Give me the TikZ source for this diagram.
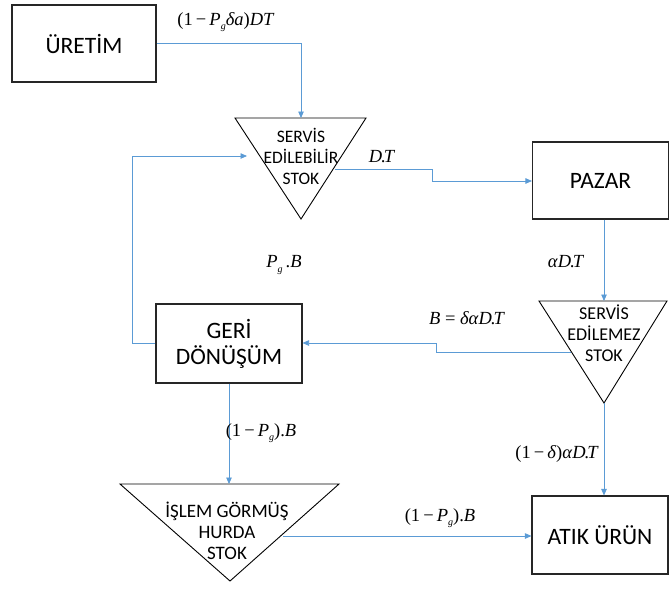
\documentclass[tikz,border=0pt]{standalone}
\usepackage{fontspec}
\setmainfont{Carlito}
\newfontfamily\tnr{Liberation Serif}
\usetikzlibrary{arrows.meta}
\definecolor{flowblue}{RGB}{91,155,213}
\newcommand{\iv}[1]{\textit{#1}}
\newcommand{\sg}{\raisebox{-0.5ex}{\fontsize{10}{10}\selectfont\itshape g}}
\newcommand{\dt}{\iv{D\kern-0.05em.\kern-0.12emT}}
\begin{document}
\begin{tikzpicture}[x=1pt,y=-1pt,
  boxnode/.style={draw=black!85, line width=1.1pt, minimum width=#1, inner sep=0pt, font=\fontsize{23.5}{26}\selectfont, align=center},
  tri/.style={draw=black, line width=0.9pt, line join=miter},
  tritext/.style={font=\fontsize{#1}{21}\selectfont, align=center, inner sep=0pt},
  flow/.style={draw=flowblue, line width=0.8pt, -{Triangle[length=6.5pt,width=5.5pt]}},
  lbl/.style={font=\tnr\fontsize{18.5}{20}\selectfont, inner sep=0pt}]
\useasboundingbox (0,0) rectangle (669,590);

% boxes
\node[boxnode=144pt, minimum height=77pt] (uretim) at (84,43.5) {ÜRETİM};
\node[boxnode=136pt, minimum height=77pt] (pazar) at (600.5,180.5) {PAZAR};
\node[boxnode=146pt, minimum height=79pt] (geri) at (229,343.5) {GERİ\\DÖNÜŞÜM};
\node[boxnode=136pt, minimum height=78pt] (atik) at (600,535) {ATIK ÜRÜN};

% triangles
\coordinate (t1a) at (235,118); \coordinate (t1b) at (366,118); \coordinate (t1c) at (301,219);
\draw[tri] (t1a) -- (t1b) -- (t1c) -- cycle;
\node[tritext=17.5] (t1text) at (301,156) {SERVİS\\EDİLEBİLİR\\STOK};

\coordinate (t2a) at (539,301); \coordinate (t2b) at (667,301); \coordinate (t2c) at (604,403);
\draw[tri] (t2a) -- (t2b) -- (t2c) -- cycle;
\node[tritext=18] (t2text) at (604,333) {SERVİS\\EDİLEMEZ\\STOK};

\coordinate (t3a) at (120,484); \coordinate (t3b) at (339,484); \coordinate (t3c) at (230,581);
\draw[tri] (t3a) -- (t3b) -- (t3c) -- cycle;
\node[tritext=19] (t3text) at (227,531) {İŞLEM GÖRMÜŞ\\HURDA\\STOK};

% connector end points
\coordinate (t1top) at (301,118);
\coordinate (t1left) at (247,156);
\coordinate (t1right) at (335,169);
\coordinate (t2top) at (604,301);
\coordinate (t2left) at (571,352);
\coordinate (t3top) at (229,484);
\coordinate (t3right) at (283,536);

% connectors
\draw[flow] (uretim.east |- 0,43) -| (t1top);
\draw[flow] (t1right) -- (432,169) -- (432,181) -- (pazar.west |- 0,181);
\draw[flow] (pazar.south -| 604,0) -- (t2top);
\draw[flow] (t2left) -- (436,352) -- (436,343) -- (geri.east |- 0,343);
\draw[flow] (geri.west |- 0,343) -- (132,343) -- (132,156) -- (t1left);
\draw[flow] (geri.south) -- (t3top);
\draw[flow] (t3right) -- (atik.west |- t3right);
\draw[flow] (t2c) -- (atik.north -| t2c);

% labels
\node[lbl] (l1) at (226,22) {(1\,−\,\iv{P}\sg\iv{δa})\iv{DT}};
\node[lbl] (l2) at (382,157) {\dt};
\node[lbl] (l3) at (566,262) {\iv{α}\dt};
\node[lbl] (l4) at (467,318) {\iv{B} = \iv{δα}\dt};
\node[lbl] (l5) at (284,265) {\iv{P}\sg\,.\iv{B}};
\node[lbl] (l6) at (261,433) {(1\,−\,\iv{P}\sg).\iv{B}};
\node[lbl] (l7) at (440,518) {(1\,−\,\iv{P}\sg).\iv{B}};
\node[lbl] (l8) at (557,454) {(1\,−\,\iv{δ})\iv{α}\dt};
\end{tikzpicture}
\end{document}
